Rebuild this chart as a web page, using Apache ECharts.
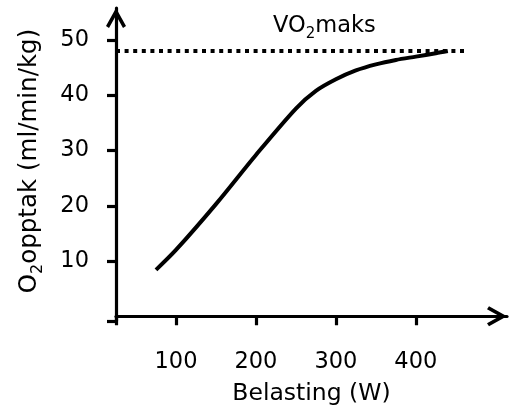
<!DOCTYPE html>
<html>
<head>
<meta charset="utf-8">
<script src="https://cdn.jsdelivr.net/npm/echarts@6/dist/echarts.min.js"></script>
<style>html,body{margin:0;padding:0;background:#fff;}#c{width:509px;height:407px;}</style>
</head>
<body>
<div id="c"></div>
<script>
// Data
const loadW = [75, 100, 150, 200, 250, 275, 300, 325, 350, 375, 400, 425, 440];
const vo2 = [8.4, 12.0, 20.3, 29.2, 37.6, 40.8, 42.9, 44.5, 45.6, 46.4, 47.0, 47.6, 48.0];
const vo2maxX = [25, 461];
const vo2maxY = [48, 48];
const xTicks = [25, 100, 200, 300, 400];
const xLabels = [100, 200, 300, 400];
const yTicks = [-0.86, 10, 20, 30, 40, 50];
const yLabels = [10, 20, 30, 40, 50];

const FONT = 'DejaVu Sans';
const FS = 22.5;
const arrow = 'path://M10 0 L20 18 L17 20 L10 7.4 L3 20 L0 18 Z';

function rich(fs, sub) {
  return {
    a: {fontFamily: FONT, fontSize: fs, fontWeight: 'normal', color: '#000', lineHeight: 32, verticalAlign: 'middle'},
    s: {fontFamily: FONT, fontSize: sub, fontWeight: 'normal', color: '#000', lineHeight: sub, verticalAlign: 'bottom'}
  };
}

const chart = echarts.init(document.getElementById('c'), null, {renderer: 'canvas'});
chart.setOption({
  animation: false,
  backgroundColor: '#fff',
  title: {
    text: '{a|VO}{s|2}{a|maks}',
    left: 268, top: 5,
    textStyle: {fontWeight: 'normal', rich: rich(22.5, 15)}
  },
  grid: {left: 116, right: 2, top: 8, bottom: 86, containLabel: false, outerBoundsMode: 'none'},
  xAxis: {
    type: 'value', min: 25, max: 514,
    name: 'Belasting (W)', nameLocation: 'middle', nameGap: 61,
    nameTextStyle: {fontFamily: FONT, fontSize: 23.5, color: '#000'},
    axisLine: {show: true, lineStyle: {color: '#000', width: 3.2},
      symbol: ['none', arrow], symbolSize: [20, 20], symbolOffset: [0, -10]},
    axisTick: {show: true, length: 9, lineStyle: {color: '#000', width: 3.2}, customValues: xTicks},
    axisLabel: {fontFamily: FONT, fontSize: FS, color: '#000', margin: 30, customValues: xLabels},
    splitLine: {show: false}
  },
  yAxis: {
    type: 'value', min: -0.86, max: 55.8,
    name: '{a|O}{s|2}{a|opptak (ml/min/kg)}', nameLocation: 'middle', nameGap: 70,
    nameTextStyle: {rich: rich(24.5, 16), padding: [0, 0, 0, 7]},
    axisLine: {show: true, lineStyle: {color: '#000', width: 3.2},
      symbol: ['none', arrow], symbolSize: [20, 20], symbolOffset: [0, -10]},
    axisTick: {show: true, length: 9, lineStyle: {color: '#000', width: 3.2}, customValues: yTicks},
    axisLabel: {fontFamily: FONT, fontSize: FS, color: '#000', margin: 27, customValues: yLabels},
    splitLine: {show: false}
  },
  series: [
    {
      type: 'line',
      data: vo2maxX.map((x, i) => [x, vo2maxY[i]]),
      showSymbol: false, symbol: 'none',
      lineStyle: {color: '#000', width: 4, type: [4, 4.6], cap: 'butt'},
      z: 2
    },
    {
      type: 'line',
      data: loadW.map((x, i) => [x, vo2[i]]),
      smooth: 0.3,
      showSymbol: false, symbol: 'none',
      lineStyle: {color: '#000', width: 4},
      z: 3
    }
  ]
});
</script>
</body>
</html>
